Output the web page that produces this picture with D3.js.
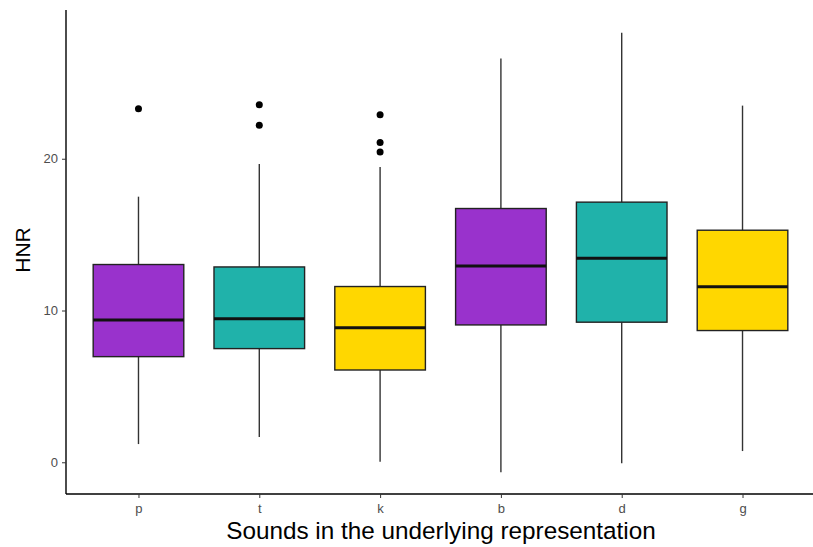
<!DOCTYPE html>
<html><head><meta charset="utf-8">
<script src="https://cdn.jsdelivr.net/npm/d3@7"></script>
<style>body{margin:0;background:#fff}svg{display:block}text{font-family:"Liberation Sans",Arial,sans-serif}</style>
</head><body><svg id="c" width="813" height="547"></svg>
<script>
const categories = ["p","t","k","b","d","g"];
const colors = ["#9932CC","#20B2AA","#FFD700","#9932CC","#20B2AA","#FFD700"];
const whiskerLow = [1.2, 1.67, 0.04, -0.66, -0.07, 0.74];
const q1 = [6.96, 7.49, 6.08, 9.05, 9.23, 8.68];
const median = [9.38, 9.45, 8.87, 12.94, 13.45, 11.56];
const q3 = [13.03, 12.87, 11.58, 16.72, 17.14, 15.29];
const whiskerHigh = [17.5, 19.66, 19.45, 26.6, 28.3, 23.5];
const outliers = [[23.3],[23.55,22.2],[22.9,21.07,20.45],[],[],[]];
const yTicks = [0,10,20];

(function(){
const svg = d3.select("#c");
const pLeft = 66, pRight = 815, pTop = 10, pBottom = 494;
const x = d3.scalePoint().domain(categories).range([pLeft, pRight]).padding(0.6);
const y = d3.scaleLinear().domain([-2.09, 29.8]).range([pBottom, pTop]);
const bw = x.step() * 0.75;

const g = svg.append("g");
categories.forEach((c, i) => {
  const cx = x(c);
  g.append("line").attr("x1", cx).attr("x2", cx).attr("y1", y(q3[i])).attr("y2", y(whiskerHigh[i]))
    .attr("stroke", "#333").attr("stroke-width", 1.4);
  g.append("line").attr("x1", cx).attr("x2", cx).attr("y1", y(q1[i])).attr("y2", y(whiskerLow[i]))
    .attr("stroke", "#333").attr("stroke-width", 1.4);
  g.append("rect").attr("x", cx - bw/2).attr("width", bw).attr("y", y(q3[i])).attr("height", y(q1[i]) - y(q3[i]))
    .attr("fill", colors[i]).attr("stroke", "#222").attr("stroke-width", 1.4);
  g.append("line").attr("x1", cx - bw/2).attr("x2", cx + bw/2).attr("y1", y(median[i])).attr("y2", y(median[i]))
    .attr("stroke", "#111").attr("stroke-width", 3);
  outliers[i].forEach(v => {
    g.append("circle").attr("cx", cx).attr("cy", y(v)).attr("r", 3.5).attr("fill", "#000");
  });
});

const ya = svg.append("g").attr("transform", `translate(${pLeft},0)`)
  .call(d3.axisLeft(y).tickValues(yTicks).tickSize(4).tickPadding(4));
ya.select(".domain").attr("d", `M0,${pTop}V${pBottom}`).attr("stroke", "#000").attr("stroke-width", 1.4);
ya.selectAll(".tick line").attr("stroke", "#333");
ya.selectAll(".tick text").attr("fill", "#4d4d4d").style("font-size", "13px");

const xa = svg.append("g").attr("transform", `translate(0,${pBottom})`)
  .call(d3.axisBottom(x).tickSize(4).tickPadding(6));
xa.select(".domain").attr("d", `M${pLeft},0H813`).attr("stroke", "#000").attr("stroke-width", 1.4);
xa.selectAll(".tick line").attr("stroke", "#333");
xa.selectAll(".tick text").attr("fill", "#4d4d4d").style("font-size", "13px");

svg.append("text").attr("x", 441).attr("y", 539).attr("text-anchor", "middle")
  .style("font-size", "24.3px").attr("fill", "#000").text("Sounds in the underlying representation");
svg.append("text").attr("transform", "translate(30,250) rotate(-90)").attr("text-anchor", "middle")
  .style("font-size", "21px").attr("fill", "#000").text("HNR");
})();
</script></body></html>
